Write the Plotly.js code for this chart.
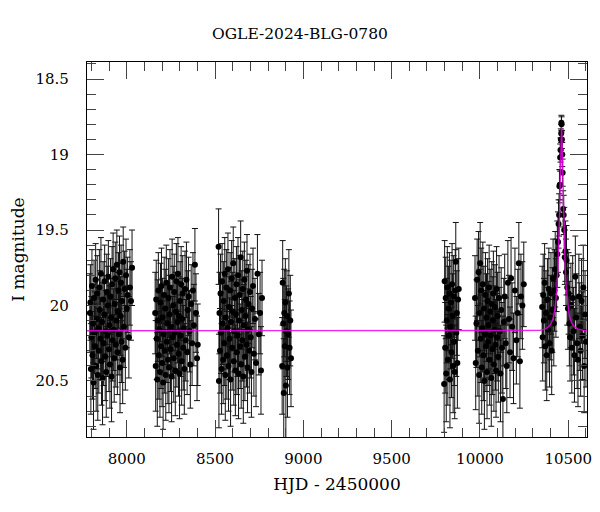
<!DOCTYPE html>
<html>
<head>
<meta charset="utf-8">
<script src="https://cdn.plot.ly/plotly-3.0.1.min.js"></script>
<style>html,body{margin:0;padding:0;background:#fff;}#chart{width:600px;height:512px;}</style>
</head>
<body>
<div id="chart"></div>
<script>
// Photometry: [HJD-2450000, I mag, error] per observing season
const season1 = [[7791,20.05,0.26],[7794,19.98,0.25],[7797,20.42,0.30],[7800,20.21,0.27],[7803,19.87,0.24],[7806,20.33,0.29],[7809,20.12,0.26],[7812,20.51,0.31],[7815,19.95,0.25],[7818,20.18,0.27],[7821,20.27,0.28],[7824,19.83,0.24],[7827,20.40,0.30],[7830,20.09,0.26],[7833,19.92,0.25],[7836,20.46,0.30],[7839,20.15,0.27],[7842,20.30,0.28],[7845,19.88,0.25],[7848,20.03,0.26],[7851,20.22,0.27],[7854,19.79,0.24],[7857,20.37,0.29],[7860,20.11,0.26],[7863,20.48,0.31],[7866,19.96,0.25],[7869,20.25,0.28],[7872,20.06,0.26],[7875,19.84,0.24],[7878,20.34,0.29],[7881,20.17,0.27],[7884,20.44,0.30],[7887,19.91,0.25],[7890,20.20,0.27],[7893,20.00,0.26],[7896,19.81,0.24],[7899,20.29,0.28],[7902,20.13,0.26],[7905,20.39,0.29],[7908,19.94,0.25],[7911,20.08,0.26],[7914,20.47,0.30],[7917,19.86,0.25],[7920,20.23,0.27],[7923,19.76,0.24],[7926,20.16,0.27],[7929,20.35,0.29],[7932,19.99,0.25],[7935,19.82,0.24],[7938,20.26,0.28],[7941,20.10,0.26],[7944,19.73,0.23],[7947,20.31,0.28],[7950,20.04,0.26],[7953,19.90,0.25],[7956,20.19,0.27],[7959,19.78,0.24],[7962,20.41,0.30],[7965,20.07,0.26],[7968,19.85,0.25],[7971,20.24,0.27],[7974,19.97,0.25],[7977,20.36,0.29],[7980,19.71,0.23],[7984,20.14,0.27],[7988,19.89,0.25],[7992,20.28,0.28],[7996,19.80,0.24],[8000,20.02,0.26],[8005,19.93,0.25],[8012,20.21,0.27],[8018,19.88,0.25],[8024,19.97,0.26],[8030,19.75,0.25]];
const season2 = [[8161,20.05,0.27],[8164,20.40,0.30],[8167,19.96,0.26],[8170,20.22,0.27],[8173,20.49,0.31],[8176,20.10,0.27],[8179,19.90,0.25],[8182,20.33,0.29],[8185,20.16,0.27],[8188,20.44,0.30],[8191,19.98,0.26],[8194,20.27,0.28],[8197,19.87,0.25],[8200,20.38,0.29],[8203,20.08,0.26],[8206,20.51,0.31],[8209,20.19,0.27],[8212,19.93,0.25],[8215,20.30,0.28],[8218,20.02,0.26],[8221,20.46,0.30],[8224,19.85,0.25],[8227,20.24,0.27],[8230,20.12,0.27],[8233,20.36,0.29],[8236,19.95,0.26],[8239,20.41,0.30],[8242,20.06,0.26],[8245,19.88,0.25],[8248,20.29,0.28],[8251,20.14,0.27],[8254,20.47,0.30],[8257,19.81,0.25],[8260,20.21,0.27],[8263,20.00,0.26],[8266,20.35,0.29],[8269,19.91,0.25],[8272,20.18,0.27],[8275,20.43,0.30],[8278,20.04,0.26],[8281,19.84,0.25],[8284,20.26,0.28],[8287,20.11,0.27],[8290,19.79,0.24],[8293,20.32,0.28],[8296,20.07,0.26],[8299,20.45,0.30],[8302,19.97,0.26],[8305,20.20,0.27],[8308,19.86,0.25],[8311,20.37,0.29],[8314,20.09,0.27],[8317,19.92,0.25],[8320,20.28,0.28],[8323,20.15,0.27],[8326,20.42,0.30],[8330,19.89,0.25],[8334,20.23,0.27],[8338,19.83,0.25],[8342,20.31,0.28],[8346,20.03,0.26],[8350,19.94,0.26],[8355,20.17,0.27],[8360,20.39,0.29],[8365,19.99,0.26],[8370,20.25,0.28],[8375,19.90,0.25],[8380,20.13,0.27],[8386,19.73,0.24],[8392,20.05,0.26],[8398,20.35,0.28],[8402,20.26,0.27]];
const season3 = [[8520,19.61,0.25],[8522,20.50,0.31],[8525,20.05,0.27],[8528,20.30,0.28],[8531,19.92,0.26],[8534,20.18,0.27],[8537,20.42,0.30],[8540,19.84,0.25],[8543,20.12,0.27],[8546,20.36,0.29],[8549,19.97,0.26],[8552,20.25,0.28],[8555,19.79,0.24],[8558,20.46,0.30],[8561,20.08,0.27],[8564,19.88,0.25],[8567,20.33,0.29],[8570,20.15,0.27],[8573,19.76,0.24],[8576,20.40,0.30],[8579,20.01,0.26],[8582,20.22,0.27],[8585,19.90,0.25],[8588,20.49,0.31],[8591,20.11,0.27],[8594,19.82,0.25],[8597,20.28,0.28],[8600,20.04,0.26],[8603,19.72,0.24],[8606,20.37,0.29],[8609,20.17,0.27],[8612,19.95,0.26],[8615,20.43,0.30],[8618,20.06,0.26],[8621,19.86,0.25],[8624,20.31,0.28],[8627,20.20,0.27],[8630,19.80,0.25],[8633,20.45,0.30],[8636,20.10,0.27],[8639,19.93,0.26],[8642,20.27,0.28],[8645,19.68,0.24],[8648,20.39,0.29],[8651,20.03,0.26],[8654,20.23,0.27],[8657,19.89,0.25],[8660,20.47,0.31],[8663,20.13,0.27],[8666,19.83,0.25],[8669,20.34,0.29],[8672,20.07,0.26],[8675,19.96,0.26],[8678,20.26,0.28],[8681,19.77,0.24],[8684,20.41,0.30],[8687,20.16,0.27],[8690,19.99,0.26],[8694,20.30,0.28],[8698,19.91,0.25],[8702,20.21,0.27],[8706,20.44,0.30],[8710,20.02,0.26],[8715,19.87,0.25],[8720,20.32,0.28],[8726,20.09,0.27],[8732,20.38,0.29],[8740,19.79,0.26],[8748,20.19,0.27],[8755,20.05,0.27],[8760,20.43,0.29],[8766,19.95,0.25]];
const season4 = [[8880,20.40,0.32],[8883,19.85,0.28],[8886,20.12,0.30],[8889,20.58,0.36],[8892,20.05,0.29],[8895,20.27,0.31],[8898,19.98,0.29],[8901,20.53,0.35],[8904,20.17,0.30],[8907,20.07,0.30],[8910,20.41,0.33],[8914,20.19,0.30],[8918,19.92,0.29],[8922,20.28,0.31],[8926,20.10,0.30],[8930,20.35,0.32]];
const season5 = [[9797,20.52,0.32],[9800,19.84,0.27],[9803,20.28,0.30],[9806,19.95,0.27],[9809,20.45,0.32],[9812,20.10,0.28],[9815,19.88,0.27],[9818,20.36,0.30],[9821,20.02,0.28],[9824,20.20,0.29],[9827,19.92,0.27],[9830,20.49,0.32],[9833,20.14,0.28],[9836,19.98,0.28],[9839,20.31,0.30],[9842,19.86,0.27],[9845,20.07,0.28],[9848,20.40,0.31],[9851,19.94,0.27],[9854,20.24,0.29],[9857,20.44,0.31],[9860,19.90,0.27],[9863,19.71,0.26],[9866,20.18,0.29],[9869,20.05,0.28],[9872,20.38,0.30],[9876,19.96,0.27],[9880,19.89,0.27]];
const season6 = [[9972,19.95,0.28],[9976,20.38,0.31],[9980,20.12,0.29],[9984,19.83,0.27],[9988,20.30,0.30],[9992,19.78,0.27],[9995,20.46,0.32],[9998,20.05,0.29],[10001,19.72,0.27],[10004,20.22,0.29],[10007,19.90,0.28],[10010,20.41,0.31],[10013,20.15,0.29],[10016,19.86,0.28],[10019,20.33,0.30],[10022,20.02,0.28],[10025,20.50,0.32],[10028,20.19,0.29],[10031,19.93,0.28],[10034,20.27,0.30],[10037,20.08,0.29],[10040,20.44,0.31],[10043,19.97,0.28],[10046,20.24,0.29],[10049,20.13,0.29],[10052,19.88,0.28],[10055,20.36,0.30],[10058,20.04,0.28],[10061,20.20,0.29],[10064,20.48,0.32],[10067,19.99,0.28],[10070,20.29,0.30],[10073,20.10,0.29],[10076,19.92,0.28],[10079,20.39,0.31],[10082,20.16,0.29],[10085,20.01,0.28],[10088,20.26,0.30],[10091,20.43,0.31],[10094,19.89,0.28],[10097,20.21,0.29],[10100,20.07,0.29],[10104,20.34,0.30],[10108,19.95,0.28],[10112,20.17,0.29],[10116,20.45,0.32],[10120,20.03,0.28],[10125,20.28,0.30],[10130,20.62,0.55],[10135,20.11,0.29],[10140,19.94,0.28],[10146,20.25,0.30],[10152,20.40,0.31],[10158,19.85,0.28],[10164,20.09,0.29],[10170,20.31,0.30],[10176,19.82,0.27],[10182,20.14,0.29],[10190,20.35,0.30],[10198,19.90,0.28],[10206,20.23,0.29],[10214,20.05,0.29],[10220,19.72,0.27],[10226,20.37,0.31],[10232,19.94,0.28],[10240,20.00,0.29],[10248,19.86,0.28]];
const season7 = [[10352,20.01,0.27],[10355,20.21,0.29],[10358,19.93,0.27],[10362,20.10,0.28],[10366,19.85,0.26],[10370,20.27,0.29],[10374,20.05,0.28],[10378,20.33,0.30],[10382,19.96,0.27],[10386,20.16,0.28],[10390,19.89,0.27],[10394,20.25,0.29],[10398,20.08,0.28],[10402,19.92,0.27],[10406,20.30,0.29],[10410,20.03,0.28],[10414,19.82,0.26],[10418,20.12,0.28],[10422,19.90,0.27],[10426,19.76,0.25],[10430,19.95,0.26],[10434,19.80,0.24],[10438,19.66,0.22],[10442,19.58,0.20],[10445,19.46,0.16],[10448,19.40,0.14],[10450,19.21,0.11],[10452,19.20,0.10],[10454,19.02,0.09],[10456,18.97,0.08],[10458,18.90,0.07],[10460,18.86,0.06],[10461,18.79,0.05],[10462,18.80,0.05],[10464,18.90,0.06],[10466,19.00,0.08],[10468,19.12,0.09],[10471,19.36,0.12],[10474,19.40,0.13],[10477,19.50,0.15],[10480,19.68,0.18],[10484,19.64,0.20],[10487,19.78,0.22],[10490,19.70,0.23],[10494,19.88,0.25],[10498,20.02,0.27],[10502,19.92,0.27],[10506,20.12,0.28],[10510,20.21,0.29],[10515,20.00,0.28],[10520,20.28,0.30],[10525,19.95,0.28],[10530,20.17,0.29],[10535,20.33,0.31],[10540,19.81,0.27],[10545,20.08,0.29],[10550,20.25,0.30],[10555,20.36,0.31],[10560,19.94,0.28],[10565,20.14,0.29],[10570,20.30,0.30],[10575,19.97,0.28],[10580,20.20,0.29],[10585,19.88,0.28],[10590,20.40,0.31],[10595,20.06,0.29],[10600,20.24,0.30]];

// Model light curve
const modelT   = [7700, 10340, 10370, 10390, 10405, 10418, 10428, 10436, 10442, 10447, 10451, 10455, 10458, 10460, 10461, 10462, 10463, 10464, 10466, 10469, 10473, 10477, 10482, 10488, 10496, 10506, 10519, 10534, 10554, 10584, 10620];
const modelMag = [20.167, 20.165, 20.155, 20.14, 20.115, 20.07, 19.99, 19.88, 19.74, 19.57, 19.38, 19.15, 18.98, 18.88, 18.84, 18.82, 18.84, 18.88, 18.98, 19.15, 19.38, 19.57, 19.74, 19.88, 19.99, 20.07, 20.115, 20.14, 20.155, 20.165, 20.167];

const xTickVals = [8000, 8500, 9000, 9500, 10000, 10500];
const xTickText = ['8000', '8500', '9000', '9500', '10000', '10500'];
const yTickVals = [18.5, 19, 19.5, 20, 20.5];
const yTickText = ['18.5', '19', '19.5', '20', '20.5'];

const all = [].concat(season1, season2, season3, season4, season5, season6, season7);
const serif = 'DejaVu Serif, Liberation Serif, serif';

const dataTrace = {
  type: 'scatter', mode: 'markers',
  x: all.map(d => d[0]), y: all.map(d => d[1]),
  error_y: {type: 'data', array: all.map(d => d[2]), visible: true, color: '#111', thickness: 1, width: 3},
  marker: {color: '#000', size: 6},
  hoverinfo: 'skip'
};
const modelTrace = {
  type: 'scatter', mode: 'lines', x: modelT, y: modelMag,
  line: {color: 'rgba(235,0,235,0.85)', width: 1.4},
  hoverinfo: 'skip'
};

const axisCommon = {
  showgrid: false, zeroline: false, showline: true, linecolor: '#000', linewidth: 1.2,
  mirror: 'allticks', ticks: 'inside', ticklen: 17, tickwidth: 1, tickcolor: '#444',
  tickfont: {family: serif, size: 15, color: '#000'}
};

const layout = {
  width: 600, height: 512,
  margin: {l: 87, r: 13, t: 62, b: 75},
  paper_bgcolor: '#fff', plot_bgcolor: '#fff',
  showlegend: false,
  title: {text: 'OGLE-2024-BLG-0780', font: {family: serif, size: 15.5, color: '#000'}, x: 0.5, xanchor: 'center', y: 1 - 34/512, yanchor: 'middle', yref: 'container'},
  xaxis: Object.assign({}, axisCommon, {
    range: [7775, 10606], tickmode: 'array', tickvals: xTickVals, ticktext: xTickText,
    minor: {dtick: 100, tick0: 0, ticklen: 9, tickcolor: '#444', ticks: 'inside'},
    ticklabelstandoff: 8,
    title: {text: 'HJD - 2450000', font: {family: serif, size: 17, color: '#000'}, standoff: 10}
  }),
  yaxis: Object.assign({}, axisCommon, {
    range: [20.871, 18.387], tickmode: 'array', tickvals: yTickVals, ticktext: yTickText,
    minor: {dtick: 0.1, tick0: 18.5, ticklen: 9, tickcolor: '#444', ticks: 'inside'},
    ticklabelstandoff: 14,
    title: {text: 'I magnitude', font: {family: serif, size: 17, color: '#000'}, standoff: 6}
  })
};

Plotly.newPlot('chart', [dataTrace, modelTrace], layout, {displayModeBar: false, staticPlot: true});
</script>
</body>
</html>
